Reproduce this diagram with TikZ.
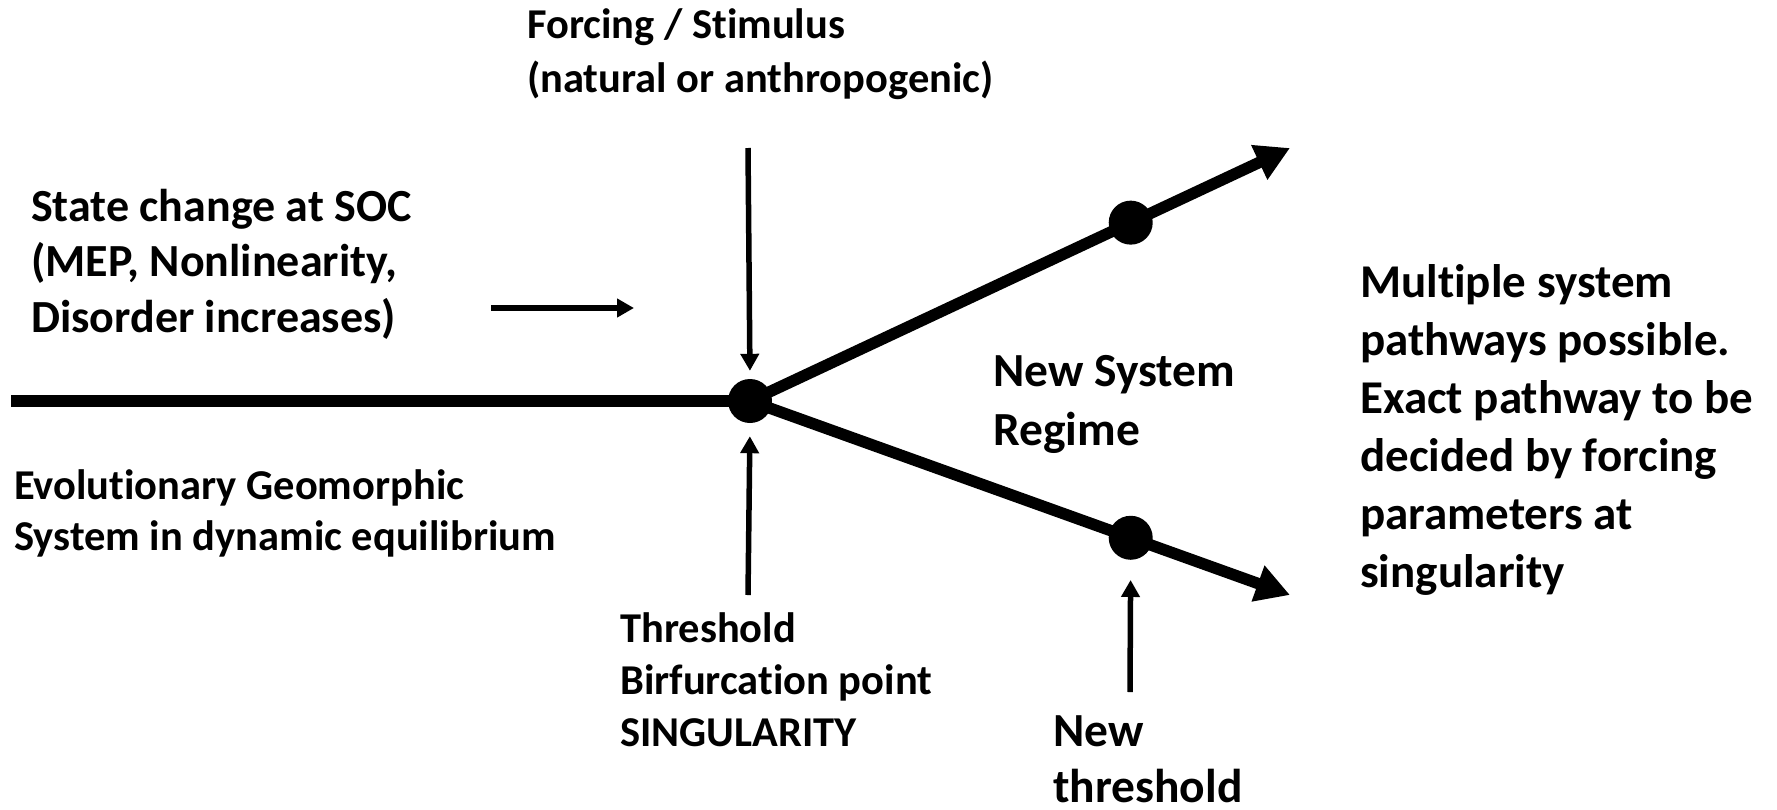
\documentclass[tikz,border=0pt]{standalone}
\usepackage{fontspec}
\setmainfont{Carlito}[Ligatures=NoCommon]
\usetikzlibrary{arrows.meta,calc}
\begin{document}
\begin{tikzpicture}[x=1pt,y=-1pt,
  mainline/.style={line width=12pt},
  branch/.style={line width=11.5pt,-{Triangle[length=34pt,width=36pt]}},
  thinarrow/.style={line width=5.5pt,-{Triangle[length=17pt,width=18pt]}},
  dot/.style={circle,fill=black,inner sep=0pt,minimum size=44pt},
  lbl/.style={inner sep=0pt,align=left,anchor=base west}]
\path[use as bounding box] (0,0) rectangle (1777,809);
% main geometry
\coordinate (start) at (11,401);
\node[dot] (c) at (750,401) {};
\coordinate (utip) at (1290,148);
\coordinate (ltip) at (1290,595);
\node[dot] (u) at ($(c)!0.705!(utip)$) {};
\node[dot] (l) at ($(c)!0.705!(ltip)$) {};
\draw[mainline] (start) -- (c.center);
\draw[branch] (c.center) -- (utip);
\draw[branch] (c.center) -- (ltip);
% thin arrows
\coordinate (f0) at (748,148);
\draw[thinarrow,shorten >=8pt] (f0) -- (c.north);
\coordinate (t0) at (748,595);
\draw[thinarrow,shorten >=13pt] (t0) -- (c.south);
\coordinate (s0) at (491,308);
\coordinate (s1) at (634,308);
\draw[thinarrow] (s0) -- (s1);
\coordinate (n0) at (1130,692);
\draw[thinarrow,shorten >=20pt] (n0) -- (l.south);
% labels (anchored at the baseline of the last line)
\node[lbl,font=\fontsize{42.5}{54}\selectfont\bfseries] (forcing) at (527,92)
  {Forcing / Stimulus\\(natural or anthropogenic)};
\node[lbl,font=\fontsize{46}{55.5}\selectfont\bfseries] (soc) at (31,332)
  {State change at SOC\\(MEP, Nonlinearity,\\Disorder increases)};
\node[lbl,font=\fontsize{42.5}{51}\selectfont\bfseries] (evo) at (14,550)
  {Evolutionary Geomorphic\\System in dynamic equilibrium};
\node[lbl,font=\fontsize{42.5}{52}\selectfont\bfseries] (thr) at (620,746)
  {Threshold\\Birfurcation point\\SINGULARITY};
\node[lbl,font=\fontsize{47.5}{59}\selectfont\bfseries] (regime) at (993,445)
  {New System\\Regime};
\node[lbl,font=\fontsize{47.5}{56}\selectfont\bfseries] (newthr) at (1053,802)
  {New\\threshold};
\node[lbl,font=\fontsize{47}{58}\selectfont\bfseries] (multi) at (1360,587)
  {Multiple system\\pathways possible.\\Exact pathway to be\\decided by forcing\\parameters at\\singularity};
\end{tikzpicture}
\end{document}
